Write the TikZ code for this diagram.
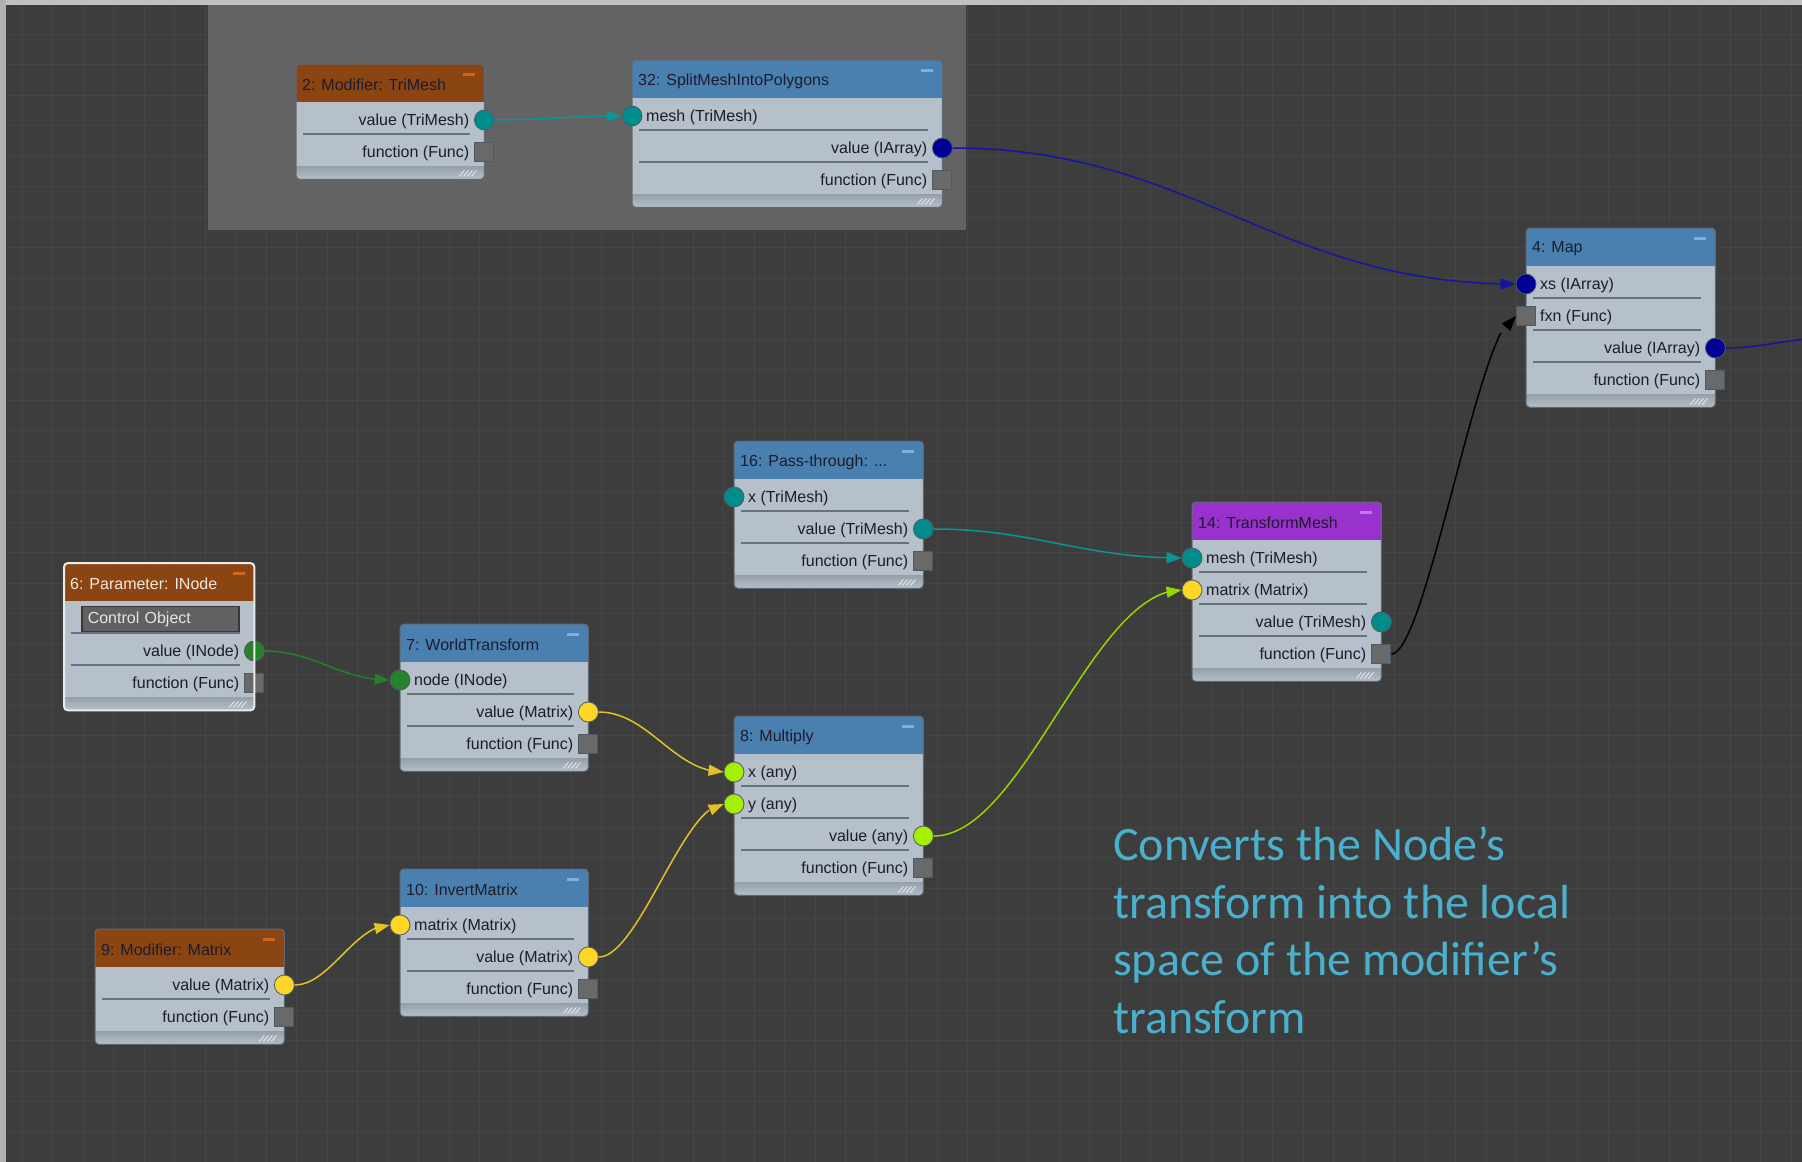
\documentclass[tikz,border=0pt]{standalone}
\usepackage{fontspec}
\setmainfont{Liberation Sans}
\newfontfamily\notefont{Carlito}
\usetikzlibrary{arrows.meta, bending}

\definecolor{canvas}{RGB}{61,61,61}
\definecolor{gridgrey}{RGB}{69,69,69}
\definecolor{framegrey}{RGB}{192,192,192}
\definecolor{groupfill}{RGB}{99,99,99}
\definecolor{bodyfill}{RGB}{182,192,202}
\definecolor{boxedge}{RGB}{96,106,118}
\definecolor{stripfill}{RGB}{150,160,171}
\definecolor{sepgrey}{RGB}{104,114,126}
\definecolor{labeltext}{RGB}{28,28,44}
\definecolor{titlelight}{RGB}{240,232,222}
\definecolor{hdrblue}{RGB}{74,128,176}
\definecolor{hdrorange}{RGB}{139,69,19}
\definecolor{hdrpurple}{RGB}{153,50,204}
\definecolor{minblue}{RGB}{125,175,225}
\definecolor{minorange}{RGB}{205,105,30}
\definecolor{minpurple}{RGB}{195,120,235}
\definecolor{pteal}{RGB}{0,140,140}
\definecolor{pnavy}{RGB}{0,0,150}
\definecolor{pgreen}{RGB}{40,130,45}
\definecolor{pyellow}{RGB}{255,214,40}
\definecolor{plime}{RGB}{165,240,0}
\definecolor{pfunc}{RGB}{105,105,105}
\definecolor{portedge}{RGB}{80,90,100}
\definecolor{eteal}{RGB}{10,150,150}
\definecolor{enavy}{RGB}{20,20,165}
\definecolor{egreen}{RGB}{40,125,45}
\definecolor{eyellow}{RGB}{228,192,40}
\definecolor{elime}{RGB}{150,215,0}
\definecolor{notecyan}{RGB}{74,176,204}

% one graph node: name, x, y, width, rows, header colour, bar colour, title
\newcommand{\graphnode}[8]{%
  \node[nodebody, minimum width=#4pt, minimum height={(51+32*#5)*1pt}] (#1) at (#2,#3) {};
  \begin{scope}
    \clip[rounded corners=4pt] (#1.north west) rectangle (#1.south east);
    \fill[#6] (#1.north west) rectangle ([yshift=-38pt]#1.north east);
    \shade[top color=stripfill, bottom color=bodyfill] ([yshift=13pt]#1.south west) rectangle (#1.south east);
  \end{scope}
  \draw[boxedge, line width=1pt, rounded corners=4pt] (#1.north west) rectangle (#1.south east);
  \fill[#7] ([xshift=-21pt,yshift=-9pt]#1.north east) rectangle ++(12pt,-3pt);
  \node[title] (#1-title) at ([xshift=6pt,yshift=-21pt]#1.north west) {#8};
  \pgfmathtruncatemacro\lastsep{#5-1}
  \foreach \k in {1,...,\lastsep}
    \draw[sepline] ([xshift=7pt,yshift={-38pt-32pt*\k}]#1.north west) -- ([xshift=-14pt,yshift={-38pt-32pt*\k}]#1.north east);
  \foreach \k in {0,...,3}
    \draw[grip] ([xshift={-25pt+4pt*\k},yshift=3pt]#1.south east) -- ++(5pt,6pt);
}
% input row: box, row, port name, port style, label
\newcommand{\inrow}[5]{%
  \node[#4] (#1-#3) at ([yshift={-56pt-32pt*(#2-1)}]#1.north west) {};
  \node[portlabel, anchor=west] (#1-#3-text) at ([xshift=14pt,yshift={-57.5pt-32pt*(#2-1)}]#1.north west) {#5};
}
% output row: box, row, port name, port style, label
\newcommand{\outrow}[5]{%
  \node[#4] (#1-#3) at ([yshift={-56pt-32pt*(#2-1)}]#1.north east) {};
  \node[portlabel, anchor=east] (#1-#3-text) at ([xshift=-15pt,yshift={-57.5pt-32pt*(#2-1)}]#1.north east) {#5};
}

\begin{document}
\begin{tikzpicture}[
    x=1pt, y=-1pt,
    % Define the style for each part
    nodebody/.style={rectangle, fill=bodyfill, rounded corners=4pt, anchor=north west, inner sep=0pt},
    title/.style={anchor=west, inner sep=0pt, font=\fontsize{16}{19}\selectfont, text=labeltext},
    portlabel/.style={inner sep=0pt, font=\fontsize{16}{19}\selectfont, text=labeltext},
    sepline/.style={draw=sepgrey, line width=1.5pt},
    grip/.style={draw=white!75!bodyfill, line width=0.8pt},
    portdot/.style={circle, draw=portedge, line width=0.8pt, fill=#1, minimum size=20pt, inner sep=0pt},
    portsq/.style={rectangle, draw=portedge, line width=1pt, fill=pfunc, minimum size=19pt, inner sep=0pt},
    fieldbox/.style={rectangle, fill=black!62, draw=black!78, line width=1.5pt, text=white!90!black, text width=145pt, inner xsep=6pt, minimum height=25pt, align=left, font=\fontsize{16}{19}\selectfont, anchor=west},
    link/.style={line width=1.5pt, draw=#1},
    wire/.style={link=#1, -{Triangle[length=15pt, width=11pt, flex]}},
    note/.style={font=\notefont\fontsize{48}{57.5}\selectfont, text=notecyan, align=left, inner sep=0pt, anchor=base west}
]
\useasboundingbox (0,0) rectangle (1802,1162);

% Canvas, grid and frame
\fill[canvas] (0,0) rectangle (1802,1162);
\foreach \g in {0,...,58}
  \draw[gridgrey, line width=0.8pt] ({22+30.5*\g},0) -- ({22+30.5*\g},1162);
\foreach \g in {0,...,37}
  \draw[gridgrey, line width=0.8pt] (0,{34+30.5*\g}) -- (1802,{34+30.5*\g});
\fill[groupfill] (208,5) rectangle (966,230);
\fill[framegrey] (0,0) rectangle (1802,5);
\fill[framegrey!92!black] (0,0) rectangle (6,1162);

% Place graph nodes at coordinates
\graphnode{n2}{296}{64}{188}{2}{hdrorange}{minorange}{2: Modifier: TriMesh}
\outrow{n2}{1}{value}{portdot=pteal}{value (TriMesh)}
\outrow{n2}{2}{func}{portsq}{function (Func)}

\graphnode{n32}{632}{60}{310}{3}{hdrblue}{minblue}{32: SplitMeshIntoPolygons}
\inrow{n32}{1}{mesh}{portdot=pteal}{mesh (TriMesh)}
\outrow{n32}{2}{value}{portdot=pnavy}{value (IArray)}
\outrow{n32}{3}{func}{portsq}{function (Func)}

\graphnode{n4}{1526}{228}{189}{4}{hdrblue}{minblue}{4: Map}
\inrow{n4}{1}{xs}{portdot=pnavy}{xs (IArray)}
\inrow{n4}{2}{fxn}{portsq}{fxn (Func)}
\outrow{n4}{3}{value}{portdot=pnavy}{value (IArray)}
\outrow{n4}{4}{func}{portsq}{function (Func)}

\graphnode{n16}{734}{441}{189}{3}{hdrblue}{minblue}{16: Pass-through: ...}
\inrow{n16}{1}{x}{portdot=pteal}{x (TriMesh)}
\outrow{n16}{2}{value}{portdot=pteal}{value (TriMesh)}
\outrow{n16}{3}{func}{portsq}{function (Func)}

\graphnode{n14}{1192}{502}{189}{4}{hdrpurple}{minpurple}{14: TransformMesh}
\inrow{n14}{1}{mesh}{portdot=pteal}{mesh (TriMesh)}
\inrow{n14}{2}{matrix}{portdot=pyellow}{matrix (Matrix)}
\outrow{n14}{3}{value}{portdot=pteal}{value (TriMesh)}
\outrow{n14}{4}{func}{portsq}{function (Func)}

\graphnode{n6}{64}{563}{190}{3}{hdrorange}{minorange}{\color{titlelight}6: Parameter: INode}
\node[fieldbox] (n6-field) at ([xshift=17pt,yshift=-56pt]n6.north west) {Control Object};
\outrow{n6}{2}{value}{portdot=pgreen}{value (INode)}
\outrow{n6}{3}{func}{portsq}{function (Func)}
\draw[white!92!black, line width=2pt, rounded corners=4pt] (n6.north west) rectangle (n6.south east);

\graphnode{n7}{400}{624}{188}{3}{hdrblue}{minblue}{7: WorldTransform}
\inrow{n7}{1}{node}{portdot=pgreen}{node (INode)}
\outrow{n7}{2}{value}{portdot=pyellow}{value (Matrix)}
\outrow{n7}{3}{func}{portsq}{function (Func)}

\graphnode{n8}{734}{716}{189}{4}{hdrblue}{minblue}{8: Multiply}
\inrow{n8}{1}{x}{portdot=plime}{x (any)}
\inrow{n8}{2}{y}{portdot=plime}{y (any)}
\outrow{n8}{3}{value}{portdot=plime}{value (any)}
\outrow{n8}{4}{func}{portsq}{function (Func)}

\graphnode{n10}{400}{869}{188}{3}{hdrblue}{minblue}{10: InvertMatrix}
\inrow{n10}{1}{matrix}{portdot=pyellow}{matrix (Matrix)}
\outrow{n10}{2}{value}{portdot=pyellow}{value (Matrix)}
\outrow{n10}{3}{func}{portsq}{function (Func)}

\graphnode{n9}{95}{929}{189}{2}{hdrorange}{minorange}{9: Modifier: Matrix}
\outrow{n9}{1}{value}{portdot=pyellow}{value (Matrix)}
\outrow{n9}{2}{func}{portsq}{function (Func)}

\coordinate (offmap) at (1806,339);

% Draw connectors between ports
\draw[wire=eteal] (n2-value) .. controls +(50,0) and +(-50,0) .. (n32-mesh);
\draw[wire=enavy] (n32-value) .. controls +(250,0) and +(-250,0) .. (n4-xs);
\draw[link=enavy] (n4-value) .. controls +(40,0) and +(-30,3) .. (offmap);
\draw[wire=black] (n14-func) .. controls +(45,0) and +(-45,0) .. (n4-fxn);
\draw[wire=eteal] (n16-value) .. controls +(110,0) and +(-110,0) .. (n14-mesh);
\draw[wire=elime] (n8-value) .. controls +(100,0) and +(-100,0) .. (n14-matrix);
\draw[wire=egreen] (n6-value) .. controls +(60,0) and +(-60,0) .. (n7-node);
\draw[wire=eyellow] (n7-value) .. controls +(60,0) and +(-60,0) .. (n8-x);
\draw[wire=eyellow] (n10-value) .. controls +(50,0) and +(-50,0) .. (n8-y);
\draw[wire=eyellow] (n9-value) .. controls +(45,0) and +(-45,0) .. (n10-matrix);

% Comment text (anchored at the last line)
\node[note] (note) at (1113,1033) {Converts the Node’s\\transform into the local\\space of the modifier’s\\transform};
\end{tikzpicture}
\end{document}
